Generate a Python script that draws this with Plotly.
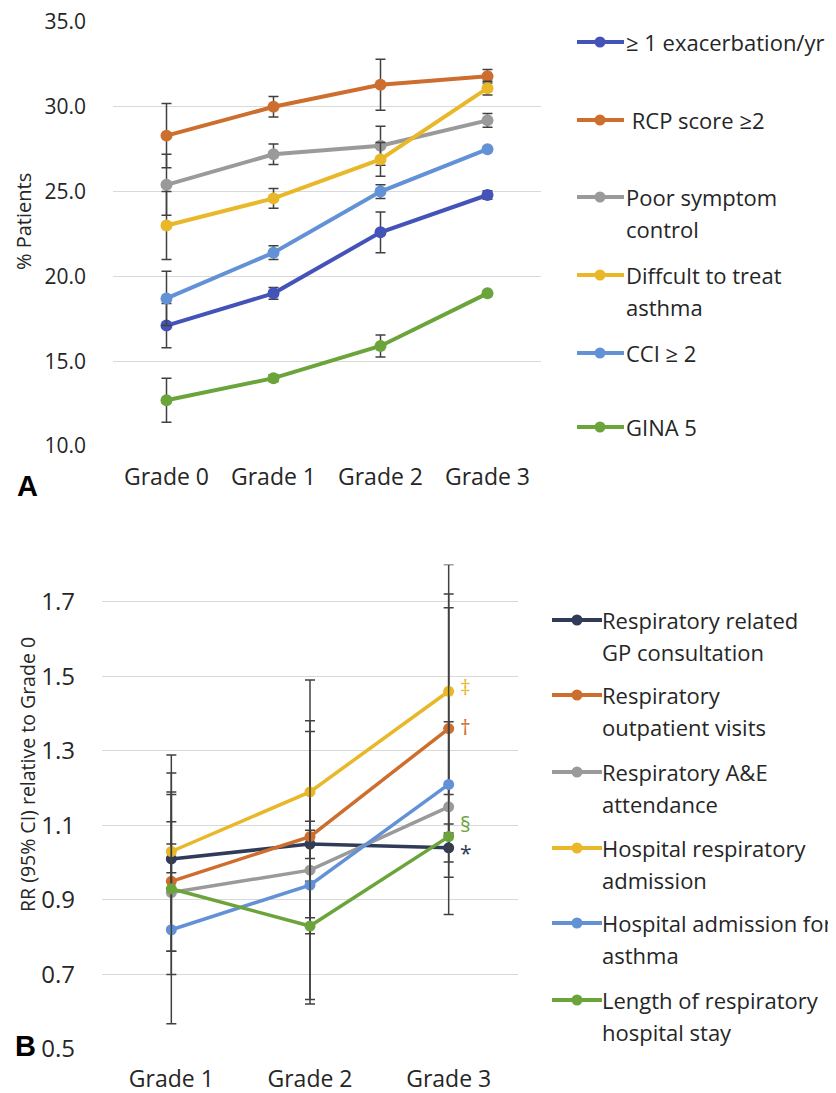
import plotly.graph_objects as go

# page body has an 8px margin, so the figure is drawn 8px in from the window edge
OFF = 8
W, H = 836 - OFF, 1093 - OFF

# ---------------- Panel A data ----------------
grades_a = ["Grade 0", "Grade 1", "Grade 2", "Grade 3"]
names_a = ["≥ 1 exacerbation/yr", "RCP score ≥2", "Poor symptom control",
           "Diffcult to treat asthma", "CCI ≥ 2", "GINA 5"]
exac = [17.1, 19.0, 22.6, 24.8]
exac_err = [1.3, 0.35, 1.2, 0.25]
rcp = [28.3, 30.0, 31.3, 31.8]
rcp_err = [1.9, 0.6, 1.5, 0.4]
poor = [25.4, 27.2, 27.7, 29.2]
poor_err = [1.8, 0.6, 1.15, 0.4]
diff = [23.0, 24.6, 26.9, 31.1]
diff_err = [2.0, 0.58, 1.0, 0.4]
cci = [18.7, 21.4, 25.0, 27.5]
cci_err = [1.6, 0.4, 0.4, 0.1]
gina = [12.7, 14.0, 15.9, 19.0]
gina_err = [1.3, 0.2, 0.65, 0.0]
yticks_a = [10, 15, 20, 25, 30, 35]

# ---------------- Panel B data ----------------
grades_b = ["Grade 1", "Grade 2", "Grade 3"]
names_b = ["Respiratory related|GP consultation", "Respiratory|outpatient visits",
           "Respiratory A&E|attendance", "Hospital respiratory|admission",
           "Hospital admission for|asthma", "Length of respiratory|hospital stay"]
gp = [1.01, 1.05, 1.04]
gp_lo = [0.973, 1.011, 1.002]
gp_hi = [1.05, 1.087, 1.08]
outp = [0.95, 1.07, 1.36]
outp_lo = [0.762, 0.852, 1.075]
outp_hi = [1.183, 1.352, 1.721]
ae = [0.92, 0.98, 1.15]
ae_lo = [0.762, 0.809, 0.961]
ae_hi = [1.11, 1.187, 1.378]
hosp = [1.03, 1.19, 1.46]
hosp_lo = [0.823, 0.95, 1.183]
hosp_hi = [1.289, 1.49, 1.80]
asth = [0.82, 0.94, 1.21]
asth_lo = [0.568, 0.633, 0.861]
asth_hi = [1.19, 1.381, 1.684]
los = [0.93, 0.83, 1.07]
los_lo = [0.70, 0.621, 1.04]
los_hi = [1.241, 1.111, 1.104]
yticks_b = [0.5, 0.7, 0.9, 1.1, 1.3, 1.5, 1.7]
marks_b = ["*", "†", None, "‡", None, "§"]

colors_a = ["#4353B8", "#CD6E2E", "#9A9A9A", "#E8B828", "#6391D6", "#6CA43C"]
colors_b = ["#2F3B58", "#CD6E2E", "#9A9A9A", "#E8B828", "#6391D6", "#6CA43C"]
ERRC = "#404040"
FONT = "Open Sans"
TXT = "#262626"

fig = go.Figure()

series_a = [(exac, exac_err), (rcp, rcp_err), (poor, poor_err),
            (diff, diff_err), (cci, cci_err), (gina, gina_err)]
for i, (vals, err) in enumerate(series_a):
    fig.add_trace(go.Scatter(
        x=grades_a, y=vals, mode="lines+markers", name=names_a[i],
        line=dict(color=colors_a[i], width=4),
        marker=dict(color=colors_a[i], size=12),
        error_y=dict(type="data", array=err, color=ERRC, thickness=1.5, width=5),
        xaxis="x", yaxis="y", showlegend=False))

series_b = [(gp, gp_lo, gp_hi), (outp, outp_lo, outp_hi), (ae, ae_lo, ae_hi),
            (hosp, hosp_lo, hosp_hi), (asth, asth_lo, asth_hi), (los, los_lo, los_hi)]
for i, (vals, lo, hi) in enumerate(series_b):
    fig.add_trace(go.Scatter(
        x=grades_b, y=vals, mode="lines+markers", name=names_b[i].replace("|", " "),
        line=dict(color=colors_b[i], width=3.5),
        marker=dict(color=colors_b[i], size=11),
        error_y=dict(type="data",
                     array=[h - v for h, v in zip(hi, vals)],
                     arrayminus=[v - l for v, l in zip(vals, lo)],
                     color=ERRC, thickness=1.5, width=5),
        xaxis="x2", yaxis="y2", showlegend=False))


def px(x):
    return (x - OFF) / W


def py(y):
    return 1 - (y - OFF) / H


axis_common = dict(showline=False, zeroline=False, ticks="", automargin=False,
                   ticklabeloverflow="allow")
cat_font = dict(family=FONT, size=23, color=TXT)

fig.update_layout(
    width=W, height=H, margin=dict(l=0, r=0, t=0, b=0, autoexpand=False),
    paper_bgcolor="white", plot_bgcolor="white",
    showlegend=False,
    xaxis=dict(domain=[px(113), px(541)], type="category", range=[-0.5, 3.5],
               showgrid=False, ticklabelstandoff=15, anchor="y", tickfont=cat_font,
               **axis_common),
    yaxis=dict(domain=[py(446), py(22)], range=[10, 35], tickvals=yticks_a,
               tickformat=".1f", showgrid=True, gridcolor="#D9D9D9", gridwidth=1,
               ticklabelstandoff=26, anchor="x", tickfont=dict(family=FONT, size=21, color=TXT),
               **axis_common),
    xaxis2=dict(domain=[px(102), px(518)], type="category", range=[-0.5, 2.5],
                showgrid=False, ticklabelstandoff=14, anchor="y2", tickfont=cat_font,
                **axis_common),
    yaxis2=dict(domain=[py(1049), py(564.6)], range=[0.5, 1.8], tickvals=yticks_b,
                tickformat=".1f", showgrid=True, gridcolor="#D9D9D9", gridwidth=1,
                ticklabelstandoff=26, anchor="x2", tickfont=dict(family=FONT, size=24, color=TXT),
                **axis_common),
)

shapes = []
annotations = []


def legend_item(x0, x1, xm, y, color, lines, tx, gap=32):
    shapes.append(dict(type="line", xref="paper", yref="paper",
                       x0=px(x0), x1=px(x1), y0=py(y), y1=py(y),
                       line=dict(color=color, width=4)))
    shapes.append(dict(type="circle", xref="paper", yref="paper",
                       xsizemode="pixel", ysizemode="pixel",
                       xanchor=px(xm), yanchor=py(y), x0=-5.5, x1=5.5, y0=-5.5, y1=5.5,
                       fillcolor=color, line=dict(color=color, width=0)))
    for k, t in enumerate(lines):
        annotations.append(dict(xref="paper", yref="paper", x=px(tx), y=py(y + k * gap),
                                text=t, showarrow=False, xanchor="left", yanchor="middle",
                                font=dict(family=FONT, size=22, color=TXT)))


# Panel A legend
leg_a_y = [42, 120, 197, 275, 353, 427]
leg_a_text = [["≥ 1 exacerbation/yr"], [" RCP score ≥2"], ["Poor symptom", "control"],
              ["Diffcult to treat", "asthma"], ["CCI ≥ 2"], ["GINA 5"]]
for i in range(6):
    legend_item(577, 624, 600, leg_a_y[i], colors_a[i], leg_a_text[i], 624)

# Panel B legend
leg_b_y = [620, 695, 772, 848, 923, 1000]
for i in range(6):
    legend_item(552, 602, 577, leg_b_y[i], colors_b[i], names_b[i].split("|"), 600)

# significance marks near Grade 3 points
mark_shift = {"*": -5, "†": 2, "‡": 4, "§": 13}
for i, m in enumerate(marks_b):
    if m is None:
        continue
    annotations.append(dict(xref="x2", yref="y2", x="Grade 3", y=series_b[i][0][2],
                            text=m, showarrow=False, xanchor="left", yanchor="middle",
                            xshift=9, yshift=mark_shift[m],
                            font=dict(family=FONT, size=21, color=colors_b[i])))

# axis titles
annotations.append(dict(xref="paper", yref="paper", x=px(23), y=py(222), text="% Patients",
                        textangle=-90, showarrow=False, xanchor="center", yanchor="middle",
                        font=dict(family=FONT, size=20, color=TXT)))
annotations.append(dict(xref="paper", yref="paper", x=px(27), y=py(775),
                        text="RR (95% CI) relative to Grade 0",
                        textangle=-90, showarrow=False, xanchor="center", yanchor="middle",
                        font=dict(family=FONT, size=19.5, color=TXT)))
# panel letters
annotations.append(dict(xref="paper", yref="paper", x=px(27), y=py(486), text="<b>A</b>",
                        showarrow=False, xanchor="center", yanchor="middle",
                        font=dict(family="Liberation Sans", size=29, color="black")))
annotations.append(dict(xref="paper", yref="paper", x=px(25), y=py(1046), text="<b>B</b>",
                        showarrow=False, xanchor="center", yanchor="middle",
                        font=dict(family="Liberation Sans", size=29, color="black")))

fig.update_layout(shapes=shapes, annotations=annotations)
fig.write_html("out.html")
